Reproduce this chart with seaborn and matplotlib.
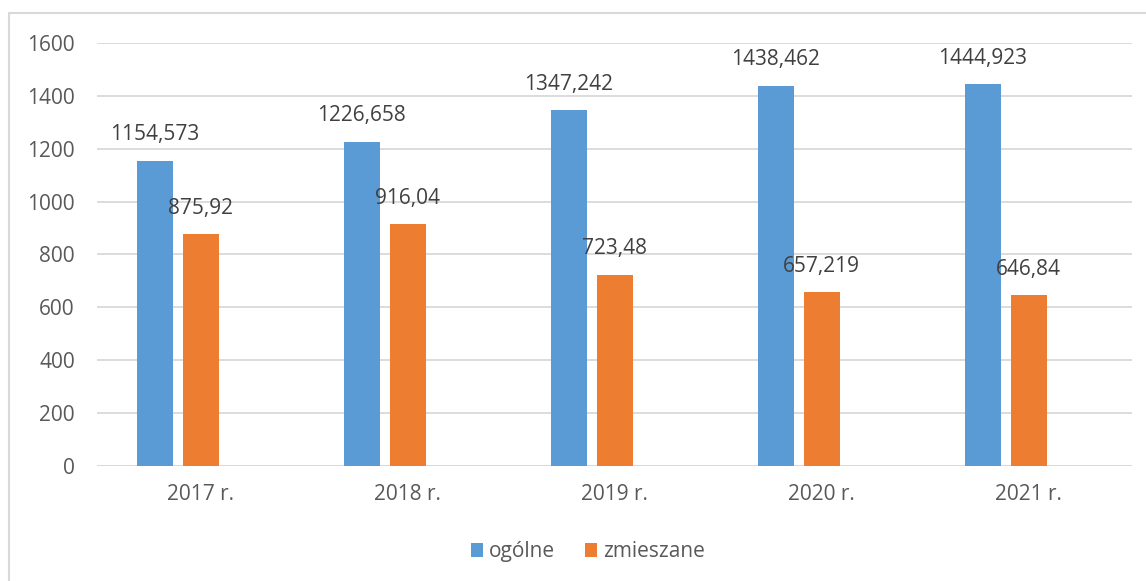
import matplotlib.pyplot as plt
import pandas as pd
import seaborn as sns
from matplotlib.patches import Rectangle

# Data
years = ['2017 r.', '2018 r.', '2019 r.', '2020 r.', '2021 r.']
ogolne = [1154.573, 1226.658, 1347.242, 1438.462, 1444.923]
zmieszane = [875.92, 916.04, 723.48, 657.219, 646.84]
# the original Excel chart reserves a third (empty) slot per category
pusty = [0, 0, 0, 0, 0]
series_names = ['ogólne', 'zmieszane', ' ']

blue = '#5B9BD5'
orange = '#ED7D31'

df = pd.DataFrame({
    'rok': years * 3,
    'seria': [series_names[0]] * 5 + [series_names[1]] * 5 + [series_names[2]] * 5,
    'wartosc': ogolne + zmieszane + pusty,
})

sns.set_style('white')
plt.rcParams['font.family'] = ['Open Sans', 'DejaVu Sans']

fig = plt.figure(figsize=(11.46, 5.81), dpi=100)
ax = fig.add_axes([97.2 / 1146, 1 - 466 / 581, 1035 / 1146, 423 / 581])

sns.barplot(data=df, x='rok', y='wartosc', hue='seria', hue_order=series_names,
            palette=[blue, orange, 'white'], saturation=1, width=0.667, gap=0.217,
            linewidth=0, ax=ax, legend=True)

# Data labels with comma decimal separator
for cont, vals in zip(ax.containers[:2], [ogolne, zmieszane]):
    ax.bar_label(cont, labels=[str(v).replace('.', ',') for v in vals],
                 padding=11, fontsize=15, color='#404040')

ax.set_ylim(0, 1600)
ax.set_yticks(range(0, 1601, 200))
ax.yaxis.grid(True, color='#d9d9d9', linewidth=1.3)
ax.set_axisbelow(True)
for side in ['top', 'right', 'left', 'bottom']:
    ax.spines[side].set_visible(False)
ax.axhline(0, color='#d9d9d9', linewidth=1.3, zorder=0.5)
ax.tick_params(axis='y', length=0, pad=16, labelsize=15, labelcolor='#595959')
ax.tick_params(axis='x', length=0, pad=13, labelsize=15, labelcolor='#595959')
ax.set_xlabel('')
ax.set_ylabel('')

# Legend at the bottom (only the two real series)
handles, labels = ax.get_legend_handles_labels()
ax.legend_.remove()
fig.legend(handles[:2], labels[:2], loc='center', bbox_to_anchor=(0.513, 0.05),
           ncol=2, frameon=False, fontsize=15, labelcolor='#595959',
           handlelength=0.6, handleheight=0.6, handletextpad=0.3, columnspacing=1.4)

# Chart-area frame
fig.patches.append(Rectangle((8.5 / 1146, -0.1), 1.2, 1 - 12.7 / 581 + 0.1,
                             transform=fig.transFigure, fill=False,
                             edgecolor='#d9d9d9', linewidth=1.5))

fig.savefig('out.png', dpi=100)
